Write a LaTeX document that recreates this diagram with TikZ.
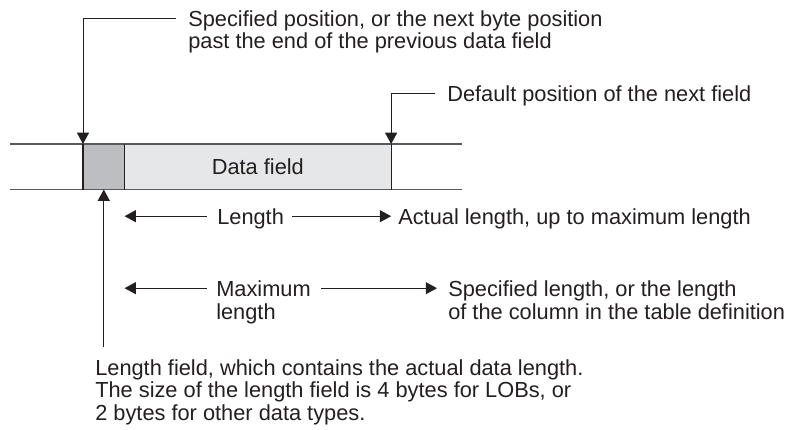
\documentclass[tikz,border=0pt]{standalone}
\usepackage{fontspec}
\setmainfont{Liberation Sans}
\usetikzlibrary{arrows.meta,positioning,calc}
\definecolor{ink}{HTML}{231F20}
\definecolor{rule}{HTML}{58595B}
\definecolor{lenfill}{HTML}{BCBEC2}
\definecolor{datafill}{HTML}{E6E7E8}
\tikzset{
  font=\fontsize{15.5pt}{16.3pt}\selectfont,
  note/.style={inner sep=0pt, align=left, anchor=north west, text=ink},
  field/.style={inner sep=0pt, minimum height=1.125cm, anchor=north west, text=ink},
  arrow/.style={-{Triangle[length=8pt, width=8.5pt]}, draw=ink, line width=0.7pt},
  bar/.style={draw=ink, line width=0.8pt},
  band/.style={draw=rule, line width=0.9pt},
}
\begin{document}
\begin{tikzpicture}
\useasboundingbox (0,0) rectangle (19.65,-10.75);
% --- record band: length field + data field
\node[field, fill=lenfill, minimum width=1.025cm] (lenfld) at (2.075,-3.6) {};
\node[field, fill=datafill, minimum width=6.65cm] (data) at (lenfld.north east) {Data field};
\coordinate (bandl) at (0.25,-3.6);
\coordinate (bandr) at (11.55,-3.6);
\draw[band] (bandl) -- (bandr);
\draw[band] (bandl |- data.south) -- (bandr |- data.south);
\draw[bar] (lenfld.north west) -- (lenfld.south west) (lenfld.north east) -- (lenfld.south east) (data.north east) -- (data.south east);
% --- start and end positions
\node[note] (spec) at (4.7,-0.25) {Specified position, or the next byte position\\past the end of the previous data field};
\node[note] (nextpos) at (11.175,-2.125) {Default position of the next field};
\draw[arrow] ($(spec.north west)+(-0.3,-0.2)$) -| (lenfld.north west);
\draw[arrow] ($(nextpos.north west)+(-0.3,-0.2)$) -| (data.north east);
% --- length rows
\node[note] (len) at (5.425,-5.205) {Length};
\node[note] (actual) at (9.95,-5.205) {Actual length, up to maximum length};
\coordinate (lenrow) at ($(len.north west)+(0,-0.2)$);
\draw[arrow] ($(lenrow)+(-0.25,0)$) -- (lenrow -| data.west);
\draw[arrow] ($(lenrow -| len.east)+(0.2,0)$) -- (lenrow -| data.east);
\node[note] (maxlen) at (5.4,-7.005) {Maximum\\length};
\node[note] (speclen) at (11.2,-7.005) {Specified length, or the length\\of the column in the table definition};
\coordinate (maxrow) at ($(maxlen.north west)+(0,-0.2)$);
\draw[arrow] ($(maxrow)+(-0.225,0)$) -- (maxrow -| data.west);
\draw[arrow] ($(maxrow -| maxlen.east)+(0.25,0)$) -- ($(maxrow -| speclen.west)+(-0.275,0)$);
% --- length field note
\node[note] (lenfield) at (2.375,-8.975) {Length field, which contains the actual data length.\\The size of the length field is 4 bytes for LOBs, or\\2 bytes for other data types.};
\draw[arrow] ($(lenfield.north west -| lenfld.south)+(0,0.3)$) -- (lenfld.south);
\end{tikzpicture}
\end{document}
